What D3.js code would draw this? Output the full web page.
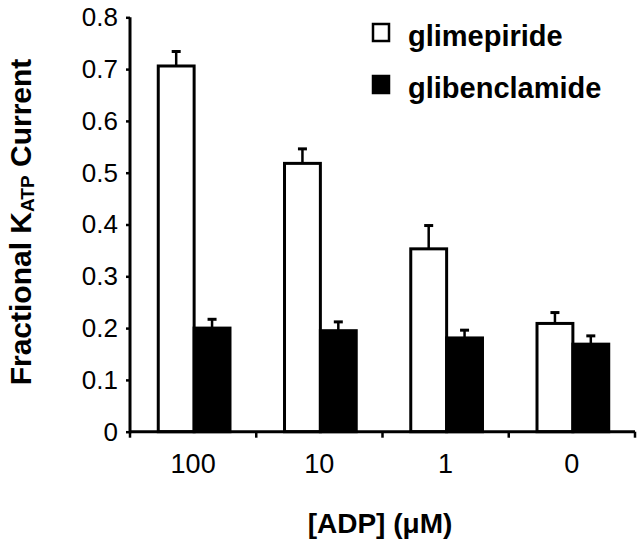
<!DOCTYPE html>
<html>
<head>
<meta charset="utf-8">
<script src="https://cdn.jsdelivr.net/npm/d3@7"></script>
<style>
  body { margin: 0; background: #fff; }
  svg { display: block; }
  text { font-family: "Liberation Sans", Arial, Helvetica, sans-serif; fill: #000; }
</style>
</head>
<body>
<svg id="chart" width="640" height="542"></svg>
<script>
const categories = ["100", "10", "1", "0"];
const series = ["glimepiride", "glibenclamide"];
const glimepiride = [0.706, 0.518, 0.353, 0.209];
const glimepirideErr = [0.028, 0.028, 0.045, 0.021];
const glibenclamide = [0.200, 0.195, 0.181, 0.169];
const glibenclamideErr = [0.017, 0.017, 0.015, 0.016];
const yTicks = [0, 0.1, 0.2, 0.3, 0.4, 0.5, 0.6, 0.7, 0.8];
const fills = ["#fff", "#000"];

(function () {
const values = [glimepiride, glibenclamide];
const errs = [glimepirideErr, glibenclamideErr];
const data = [];
categories.forEach((c, i) => series.forEach((s, j) => data.push({ cat: c, ser: s, v: values[j][i], e: errs[j][i], fill: fills[j] })));

const svg = d3.select("#chart");
const mLeft = 130, mRight = 635, mTop = 17.3, mBottom = 431.7;

const x = d3.scaleBand().domain(categories).range([mLeft, mRight]).paddingInner(0).paddingOuter(0);
const xs = d3.scaleBand().domain(series).range([0, x.bandwidth()]).paddingInner(0).paddingOuter(0.76);
const y = d3.scaleLinear().domain([0, 0.8]).range([mBottom, mTop]);

// bars
svg.append("g").selectAll("rect").data(data).join("rect")
  .attr("x", d => x(d.cat) + xs(d.ser) + 1)
  .attr("width", xs.bandwidth())
  .attr("y", d => y(d.v))
  .attr("height", d => y(0) - y(d.v))
  .attr("fill", d => d.fill)
  .attr("stroke", "#000")
  .attr("stroke-width", 3);

// error bars (upper only)
const eg = svg.append("g").attr("stroke", "#000");
eg.selectAll("line.stem").data(data).join("line").attr("class", "stem")
  .attr("x1", d => x(d.cat) + xs(d.ser) + 1 + xs.bandwidth() / 2)
  .attr("x2", d => x(d.cat) + xs(d.ser) + 1 + xs.bandwidth() / 2)
  .attr("y1", d => y(d.v))
  .attr("y2", d => y(d.v + d.e))
  .attr("stroke-width", 2.5);
eg.selectAll("line.cap").data(data).join("line").attr("class", "cap")
  .attr("x1", d => x(d.cat) + xs(d.ser) + 1 + xs.bandwidth() / 2 - 4.5)
  .attr("x2", d => x(d.cat) + xs(d.ser) + 1 + xs.bandwidth() / 2 + 4.5)
  .attr("y1", d => y(d.v + d.e))
  .attr("y2", d => y(d.v + d.e))
  .attr("stroke-width", 3);

// y axis
const yAxis = d3.axisLeft(y).tickValues(yTicks).tickSize(4).tickPadding(8)
  .tickFormat(d => d === 0 ? "0" : d3.format(".1f")(d));
const yg = svg.append("g").attr("transform", `translate(${mLeft},0)`).call(yAxis);
yg.select(".domain").remove();
yg.append("line").attr("x1", 0).attr("x2", 0).attr("y1", mTop).attr("y2", mBottom + 1.5)
  .attr("stroke", "#000").attr("stroke-width", 3);
yg.selectAll(".tick line").attr("stroke", "#000").attr("stroke-width", 2.5);
yg.selectAll(".tick text").attr("font-size", 26).attr("fill", "#000")
  .style("font-family", "'Liberation Sans', Arial, sans-serif");

// x axis
const xg = svg.append("g").attr("transform", `translate(0,${mBottom})`);
xg.append("line").attr("x1", mLeft).attr("x2", mRight).attr("y1", 0).attr("y2", 0)
  .attr("stroke", "#000").attr("stroke-width", 3);
const bounds = categories.map(c => x(c)).concat([x(categories[categories.length - 1]) + x.bandwidth()]);
xg.selectAll("line.tk").data(bounds).join("line").attr("class", "tk")
  .attr("x1", d => d).attr("x2", d => d).attr("y1", 0).attr("y2", 6)
  .attr("stroke", "#000").attr("stroke-width", 2.5);
xg.selectAll("text.lbl").data(categories).join("text").attr("class", "lbl")
  .attr("x", d => x(d) + x.bandwidth() / 2)
  .attr("y", 41)
  .attr("text-anchor", "middle")
  .attr("font-size", 27)
  .text(d => d);

// axis titles
svg.append("text")
  .attr("x", 380).attr("y", 533)
  .attr("text-anchor", "middle")
  .attr("font-size", 28).attr("font-weight", "bold")
  .text("[ADP] (\u03BCM)");

const yt = svg.append("text")
  .attr("transform", "translate(31,222) rotate(-90)")
  .attr("text-anchor", "middle")
  .attr("font-size", 30).attr("font-weight", "bold");
yt.append("tspan").text("Fractional K");
yt.append("tspan").attr("font-size", 19).attr("dy", 3).text("ATP");
yt.append("tspan").attr("dy", -3).text(" Current");

// legend
const lg = svg.append("g");
series.forEach((s, j) => {
  const yy = 24 + j * 52;
  lg.append("rect").attr("x", 373).attr("y", yy).attr("width", 16).attr("height", 17)
    .attr("fill", fills[j]).attr("stroke", "#000").attr("stroke-width", 2.5);
  lg.append("text").attr("x", 408).attr("y", yy + 22)
    .attr("font-size", 29).attr("font-weight", "bold").text(s);
});
})();
</script>
</body>
</html>
